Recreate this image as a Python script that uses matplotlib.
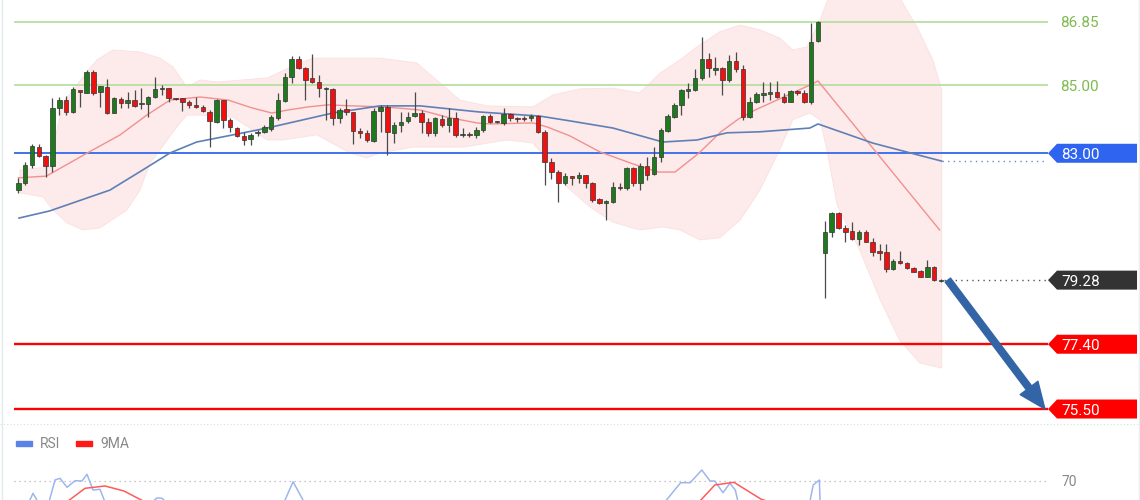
import numpy as np
import matplotlib
matplotlib.use("Agg")
import matplotlib.pyplot as plt
from matplotlib.patches import Polygon, Rectangle
from matplotlib.transforms import blended_transform_factory
from matplotlib.lines import Line2D

# ---------------- data ----------------
opens = [81.92, 82.13, 82.66, 83.18, 82.92, 82.63, 84.33, 84.56, 84.21, 84.86,
         84.77, 85.38, 84.80, 84.94, 84.18, 84.59, 84.47, 84.56, 84.45, 84.45,
         84.65, 84.89, 84.91, 84.62, 84.62, 84.50, 84.42, 84.36, 84.21, 83.92,
         84.56, 83.98, 83.74, 83.51, 83.42, 83.59, 83.62, 83.71, 84.03, 84.53,
         85.24, 85.76, 85.50, 85.21, 85.09, 84.89, 84.89, 84.03, 84.30, 84.21,
         83.65, 83.59, 83.36, 84.24, 84.36, 83.59, 83.83, 83.95, 84.09, 84.18,
         83.92, 83.59, 84.01, 83.83, 84.03, 83.54, 83.57, 83.54, 83.68, 84.09,
         83.92, 83.89, 84.15, 84.03, 84.03, 84.03, 84.09, 83.62, 82.74, 82.45,
         82.13, 82.33, 82.28, 82.36, 82.13, 81.66, 81.54, 81.57, 82.01, 81.98,
         82.57, 82.13, 82.63, 82.39, 82.89, 83.65, 84.06, 84.42, 84.83, 84.86,
         85.21, 85.76, 85.44, 85.50, 85.15, 85.70, 85.47, 84.06, 84.50, 84.71,
         84.74, 84.80, 84.65, 84.50, 84.83, 84.77, 84.50, 86.29, 80.08, 80.69,
         81.25, 80.81, 80.72, 80.49, 80.69, 80.40, 80.13, 80.10, 79.61, 79.84,
         79.78, 79.64, 79.55, 79.37, 79.67, 79.25]
highs = [82.28, 82.74, 83.27, 83.27, 82.95, 84.62, 84.65, 84.68, 84.94, 84.86,
         85.44, 85.44, 84.97, 85.18, 84.65, 84.65, 84.80, 84.86, 84.91, 84.68,
         85.24, 85.00, 84.91, 84.62, 84.62, 84.56, 84.65, 84.42, 84.27, 84.59,
         84.56, 84.03, 83.77, 83.62, 83.59, 83.68, 83.83, 84.12, 84.77, 85.35,
         85.85, 85.85, 85.53, 85.91, 85.30, 84.94, 84.91, 84.33, 84.59, 84.21,
         83.74, 83.68, 84.33, 84.42, 84.42, 83.92, 84.21, 84.21, 84.80, 84.27,
         84.03, 84.06, 84.12, 84.33, 84.21, 83.74, 83.62, 83.77, 84.12, 84.15,
         83.95, 84.33, 84.18, 84.06, 84.09, 84.15, 84.12, 83.68, 82.86, 82.51,
         82.42, 82.33, 82.45, 82.36, 82.16, 81.69, 81.63, 82.16, 82.13, 82.60,
         82.60, 82.71, 82.89, 83.18, 83.74, 84.15, 84.48, 84.89, 85.06, 85.47,
         86.41, 85.94, 85.82, 85.53, 85.88, 85.97, 85.59, 84.65, 84.80, 85.09,
         85.09, 85.12, 84.77, 84.86, 84.86, 84.86, 86.82, 86.88, 81.01, 81.28,
         81.28, 80.90, 80.98, 80.75, 80.75, 80.51, 80.34, 80.34, 79.90, 80.13,
         79.81, 79.67, 79.58, 79.87, 79.70, 79.30]
lows = [81.84, 82.07, 82.57, 82.89, 82.30, 82.45, 84.12, 84.12, 84.18, 84.36,
        84.77, 84.71, 84.36, 84.15, 84.18, 84.33, 84.33, 84.36, 84.30, 84.06,
        84.62, 84.71, 84.50, 84.56, 84.24, 84.33, 84.33, 84.21, 83.18, 83.89,
        83.74, 83.62, 83.48, 83.24, 83.24, 83.51, 83.59, 83.65, 83.98, 84.50,
        85.06, 85.47, 84.56, 85.06, 84.65, 83.98, 83.83, 83.89, 84.12, 83.27,
        83.45, 83.33, 83.33, 83.62, 82.95, 83.30, 83.62, 83.89, 84.06, 83.59,
        83.51, 83.51, 83.77, 83.62, 83.48, 83.48, 83.48, 83.45, 83.62, 83.89,
        83.89, 83.83, 83.95, 83.92, 83.95, 83.95, 83.59, 82.07, 82.25, 81.57,
        82.07, 82.07, 82.13, 81.98, 81.57, 81.51, 81.04, 81.54, 81.92, 81.92,
        82.04, 81.92, 82.22, 82.36, 82.74, 83.62, 84.03, 84.12, 84.62, 84.83,
        85.15, 85.24, 85.30, 84.71, 85.09, 85.38, 83.98, 84.03, 84.47, 84.50,
        84.56, 84.62, 84.47, 84.50, 84.71, 84.47, 84.45, 86.26, 78.76, 80.55,
        80.78, 80.40, 80.46, 80.31, 80.40, 79.99, 79.87, 79.52, 79.58, 79.75,
        79.61, 79.52, 79.37, 79.37, 79.24, 79.22]
closes = [82.13, 82.66, 83.21, 82.92, 82.63, 84.33, 84.56, 84.21, 84.89, 84.80,
          85.38, 84.77, 84.97, 84.18, 84.62, 84.47, 84.56, 84.39, 84.47, 84.65,
          84.89, 84.91, 84.62, 84.59, 84.50, 84.42, 84.36, 84.24, 83.95, 84.56,
          83.98, 83.77, 83.51, 83.39, 83.54, 83.62, 83.77, 84.06, 84.56, 85.24,
          85.76, 85.50, 85.15, 85.09, 84.91, 84.91, 84.03, 84.27, 84.21, 83.65,
          83.59, 83.39, 84.24, 84.36, 83.62, 83.83, 83.92, 84.06, 84.18, 83.92,
          83.59, 84.03, 83.83, 84.03, 83.54, 83.57, 83.54, 83.68, 84.09, 83.92,
          83.95, 84.15, 84.03, 84.01, 84.01, 84.09, 83.62, 82.74, 82.45, 82.13,
          82.33, 82.28, 82.36, 82.13, 81.63, 81.54, 81.60, 82.01, 81.98, 82.57,
          82.13, 82.63, 82.36, 82.89, 83.68, 84.09, 84.42, 84.86, 84.89, 85.21,
          85.76, 85.50, 85.50, 85.15, 85.70, 85.47, 84.06, 84.50, 84.74, 84.77,
          84.80, 84.65, 84.50, 84.83, 84.77, 84.50, 86.26, 86.85, 80.69, 81.25,
          80.81, 80.69, 80.49, 80.69, 80.40, 80.10, 80.08, 79.61, 79.84, 79.78,
          79.64, 79.52, 79.37, 79.67, 79.27, 79.28]

# moving averages (candle index, price)
ma_fast_idx = [0, 4.1, 10.1, 14.9, 18.8, 22.2, 26.6, 30.7, 34.2, 37.1, 39.5, 42.4,
               45.3, 48.8, 53.6, 58.8, 62.7, 67.1, 69.0, 75.3, 77.4, 80.7, 85.1,
               89.9, 93.6, 96.1, 99.6, 102.8, 105.4, 107.8, 110.0, 115.8, 117.0, 134.8]
ma_fast_val = [82.28, 82.33, 83.01, 83.54, 84.12, 84.56, 84.65, 84.56, 84.33, 84.18,
               84.27, 84.36, 84.42, 84.39, 84.36, 84.27, 84.06, 83.89, 83.86, 83.89,
               83.77, 83.51, 83.04, 82.69, 82.45, 82.45, 83.01, 83.63, 84.01, 84.27,
               84.47, 85.00, 85.12, 80.75]
ma_slow_idx = [0.1, 4.6, 13.4, 18.2, 22.2, 26.1, 31.4, 36.4, 46.0, 52.9, 58.8, 67.5,
               76.3, 80.7, 87.0, 94.3, 99.3, 103.7, 108.5, 115.8, 117.0, 125.0,
               130.5, 135.1]
ma_slow_val = [81.10, 81.31, 81.92, 82.51, 83.01, 83.33, 83.54, 83.74, 84.18, 84.39,
               84.39, 84.21, 84.09, 83.95, 83.74, 83.33, 83.39, 83.60, 83.63, 83.74,
               83.86, 83.30, 83.01, 82.77]

# bollinger envelope (candle index, price)
band_up_idx = [0.25, 4.64, 5.66, 6.54, 9.47, 11.51, 13.85, 17.81, 20.73, 22.63, 23.95,
               24.68, 26.6, 29.1, 36.4, 41.2, 43.1, 52.9, 58.3, 61.7, 64.6, 68.6,
               75.3, 78.2, 82.2, 87.0, 90.9, 93.9, 96.8, 99.3, 102.6, 105.6, 108.5,
               111.4, 113.3, 115.4, 117.3, 119.5, 123.1, 127.5, 130.0, 131.5, 133.8,
               135.1]
band_up_val = [82.51, 82.60, 83.68, 84.48, 85.24, 85.74, 86.03, 85.97, 85.79, 85.53,
               85.15, 84.94, 85.15, 85.09, 85.21, 85.65, 85.79, 85.79, 85.65, 85.06,
               84.56, 84.39, 84.36, 84.71, 84.89, 84.91, 84.77, 85.35, 85.74, 86.12,
               86.56, 86.76, 86.62, 86.38, 86.03, 86.12, 86.91, 88.08, 88.67, 88.08,
               87.20, 86.70, 85.74, 84.86]
band_lo_idx = [0.25, 3.6, 5.08, 7.1, 9.47, 11.95, 15.9, 17.8, 19.3, 21.8, 23.65, 24.7,
               26.6, 31.4, 34.3, 36.4, 38.7, 43.7, 48.5, 51.0, 52.9, 57.7, 65.1,
               71.5, 75.3, 77.4, 80.3, 83.6, 87.0, 90.9, 94.3, 96.8, 99.7, 102.6,
               105.6, 108.5, 111.4, 113.3, 115.8, 117.3, 118.3, 119.8, 123.1, 126.1,
               128.9, 131.9, 135.1]
band_lo_val = [81.84, 81.72, 81.34, 80.96, 80.75, 80.81, 81.34, 81.92, 82.72, 83.39,
               83.89, 84.12, 84.12, 84.06, 83.68, 83.39, 83.39, 83.54, 83.01, 82.86,
               83.01, 83.18, 83.18, 83.39, 83.30, 82.80, 82.01, 81.43, 80.98, 80.75,
               80.84, 80.75, 80.46, 80.52, 81.04, 81.92, 83.10, 83.98, 84.18, 83.98,
               83.10, 81.48, 80.16, 78.70, 77.53, 76.85, 76.70]

# key levels
res_levels = [86.85, 85.00]
pivot_level = 83.00
sup_levels = [77.40, 75.50]
target_level = 75.50

# RSI panel (candle index, value)
rsi_idx = [0, 1.57, 2.15, 2.88, 4.49, 5.37, 6.10, 7.13, 8.30, 9.32, 10.05, 10.93,
           11.95, 12.68, 14.0, 19.6, 20.3, 21.0, 21.6, 30.0, 38.9, 40.2, 41.8,
           60.0, 85.0, 94.6, 96.9, 98.3, 100.0, 101.2, 101.9, 103.1, 104.1, 104.9,
           105.3, 110.0, 115.8, 116.3, 117.2, 117.3, 119.0, 135.0]
rsi_val = [55.0, 61.5, 64.96, 61.5, 61.5, 70.3, 70.96, 67.36, 70.0, 69.9, 72.56, 66.28,
           66.56, 61.5, 55.0, 61.5, 63.1, 63.0, 61.5, 50.0, 61.5, 69.6, 61.5,
           45.0, 50.0, 61.5, 69.2, 69.2, 74.28, 69.88, 69.88, 65.2, 68.96, 66.28,
           61.5, 45.0, 61.5, 68.28, 70.28, 61.5, 25.0, 30.0]
rsi_ma_idx = [0, 7.1, 9.76, 12.68, 15.46, 18.54, 40.0, 80.0, 99.6, 101.9, 104.7,
              108.7, 110.0, 120.0, 135.0]
rsi_ma_val = [50.0, 61.5, 66.96, 67.88, 65.88, 61.5, 55.0, 45.0, 61.5, 68.28, 69.36,
              62.56, 61.5, 55.0, 40.0]
rsi_level = 70

# ---------------- figure ----------------
W, H = 1140, 500
fig = plt.figure(figsize=(W / 100, H / 100), dpi=100)
fig.patch.set_facecolor("white")
FONT = ["Roboto", "DejaVu Sans"]

ax = fig.add_axes([14 / W, 77 / H, 1034 / W, 423 / H])
ax.set_xlim(-0.63, 150.65)
ax.set_ylim(75.09, 87.495)
ax.axis("off")
trans = blended_transform_factory(ax.transAxes, ax.transData)

# band
poly_x = np.r_[band_up_idx, band_lo_idx[::-1]]
poly_y = np.r_[band_up_val, band_lo_val[::-1]]
ax.fill(poly_x, poly_y, facecolor="#fdeaea", edgecolor="#fce0e0", lw=0.6, zorder=1)

# horizontal levels
for v in res_levels:
    ax.axhline(v, color="#b9dea3", lw=1.3, zorder=2)
ax.axhline(pivot_level, color="#3f72ea", lw=1.4, zorder=2)
for v in sup_levels:
    ax.axhline(v, color="#ff0000", lw=1.7, zorder=2)

# moving averages
ax.plot(ma_fast_idx, ma_fast_val, color="#f29090", lw=1.0, zorder=3)
ax.plot(ma_slow_idx, ma_slow_val, color="#5f80b6", lw=1.2, zorder=3)
ax.hlines(ma_slow_val[-1], ma_slow_idx[-1], 150.65, colors="#6f8cc0",
          linestyles=(0, (1, 3)), lw=1.0, zorder=3)

# candles
n = len(closes)
idx = np.arange(n)
o = np.array(opens); c = np.array(closes)
hi = np.array(highs); lo = np.array(lows)
up = c >= o
ax.vlines(idx, lo, hi, color="#4a4a4a", lw=0.9, zorder=4)
body_b = np.minimum(o, c)
body_h = np.maximum(np.abs(c - o), 0.035)
ax.bar(idx[up], body_h[up], bottom=body_b[up], width=0.66, color="#1d7a1d",
       edgecolor="#333333", lw=0.5, zorder=5)
ax.bar(idx[~up], body_h[~up], bottom=body_b[~up], width=0.66, color="#f01010",
       edgecolor="#333333", lw=0.5, zorder=5)

# last price dotted line
ax.hlines(closes[-1], n - 0.5, 150.65, colors="#555555",
          linestyles=(0, (1, 3)), lw=1.0, zorder=3)

# target arrow
ax.annotate("", xy=(150.2, target_level), xytext=(n, closes[-1]),
            arrowprops=dict(arrowstyle="simple,head_length=0.95,head_width=0.8,tail_width=0.24",
                            color="#3365a6", shrinkA=0, shrinkB=0, mutation_scale=20),
            zorder=6, annotation_clip=False)

# right side tags
half = 9.5 / 34.1


def tag(y, fc, txt):
    pts = [(1.0, y), (1.0087, y + half), (1.0861, y + half),
           (1.0861, y - half), (1.0087, y - half)]
    ax.add_patch(Polygon(pts, closed=True, transform=trans, fc=fc, ec="none",
                         clip_on=False, zorder=7))
    ax.text(1.0126, y, txt, transform=trans, color="white", va="center_baseline",
            ha="left", fontsize=11, family=FONT, clip_on=False, zorder=8)


for v in res_levels:
    ax.text(1.0116, v, f"{v:.2f}", transform=trans, color="#7dba4f",
            va="center_baseline", ha="left", fontsize=11, family=FONT)
tag(pivot_level, "#2e64f0", f"{pivot_level:.2f}")
tag(closes[-1], "#333333", f"{closes[-1]:.2f}")
for v in sup_levels:
    tag(v, "#ff0000", f"{v:.2f}")

# separators
fig.add_artist(Line2D([0, 1], [76.5 / H, 76.5 / H], color="#d2e6d0", lw=0.8,
                      ls=(0, (1, 2))))
fig.add_artist(Line2D([1.5 / W, 1.5 / W], [0, 1], color="#e3eaea", lw=1.0))
fig.add_artist(Line2D([1138.5 / W, 1138.5 / W], [0, 1], color="#eceff0", lw=1.0))

# ---------------- RSI panel ----------------
rax = fig.add_axes([14 / W, 0, 1034 / W, 75 / H])
rax.set_xlim(-0.63, 150.65)
k = 2.5
rax.set_ylim(70 - 19.3 / k, 70 + 55.7 / k)
rax.axis("off")
rtrans = blended_transform_factory(rax.transAxes, rax.transData)
rax.axhline(rsi_level, color="#b5b5b5", lw=0.9, ls=(0, (1, 3)))
rax.plot(rsi_idx, rsi_val, color="#9fb5ee", lw=1.1)
rax.plot(rsi_ma_idx, rsi_ma_val, color="#ff5a5a", lw=1.1)
rax.text(1.0126, rsi_level, str(rsi_level), transform=rtrans, color="#888888",
         va="center_baseline", ha="left", fontsize=10, family=FONT)

# legend
fig.add_artist(Rectangle((16 / W, (500 - 446) / H), 16 / W, 5 / H, color="#5b82e6"))
fig.text(40 / W, (500 - 443) / H, "RSI", color="#888888", fontsize=10,
         family=FONT, va="center_baseline", ha="left")
fig.add_artist(Rectangle((76 / W, (500 - 446) / H), 16 / W, 5 / H, color="#ff1a1a"))
fig.text(100 / W, (500 - 443) / H, "9MA", color="#888888", fontsize=10,
         family=FONT, va="center_baseline", ha="left")

fig.savefig("out.png", dpi=100, facecolor="white")
